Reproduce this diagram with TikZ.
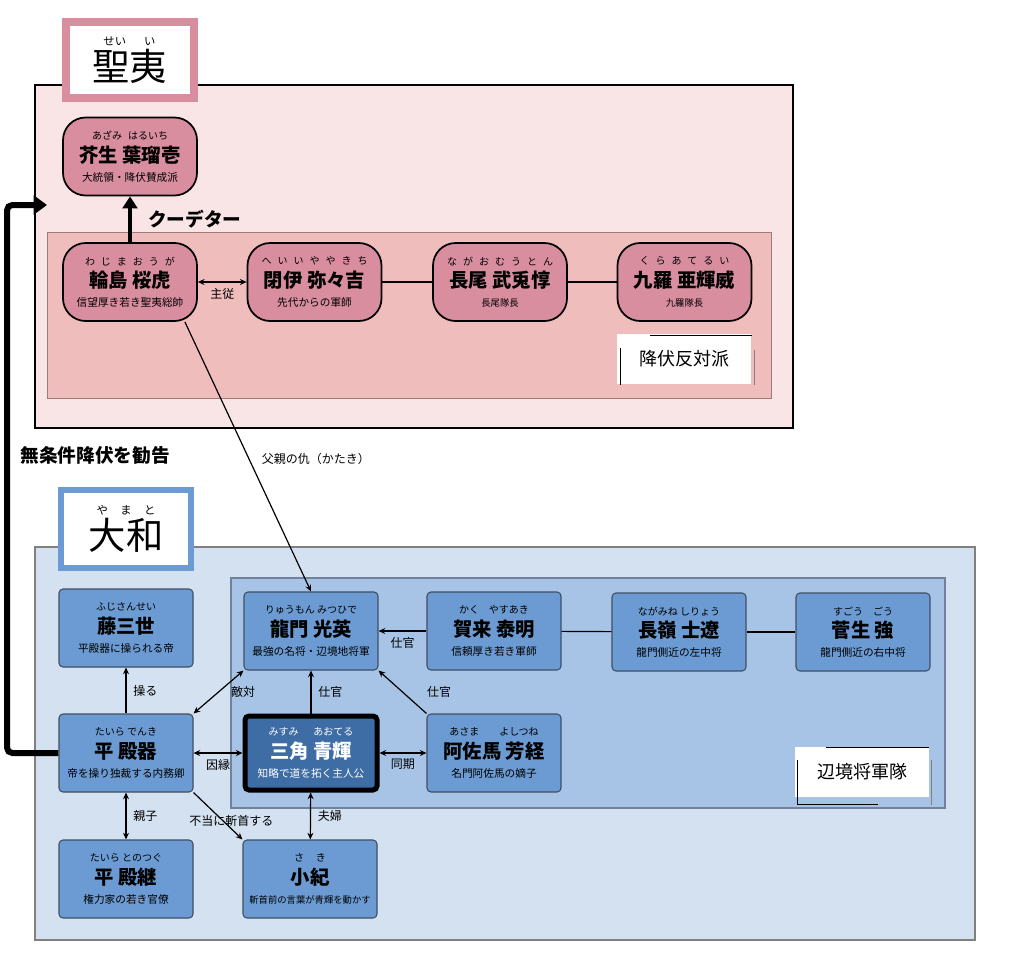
\documentclass[tikz,border=0pt]{standalone}
\usepackage{fontspec}
\setmainfont{Noto Sans CJK JP}
\usetikzlibrary{arrows.meta}
\usetikzlibrary{positioning}
\definecolor{seiibg}{HTML}{F9E5E5}
\definecolor{seiiin}{HTML}{EEBDBC}
\definecolor{seiiline}{HTML}{9E7B7B}
\definecolor{seiinode}{HTML}{D98EA0}
\definecolor{yamatobg}{HTML}{D3E1F1}
\definecolor{yamatoin}{HTML}{A7C4E6}
\definecolor{yamatoline}{HTML}{70839A}
\definecolor{yamatonode}{HTML}{6B9BD2}
\definecolor{yline}{HTML}{3F4F63}
\definecolor{heronode}{HTML}{3E6CA4}
\setlength{\lineskiplimit}{-20pt}
\newcommand{\who}[3]{{\fontsize{7.5}{8}\selectfont #1}\\[3pt]{\fontsize{14.5}{16}\selectfont\bfseries #2}\\{\fontsize{8}{9}\selectfont #3}}
\newcommand{\rubysp}[1]{{\addfontfeature{LetterSpace=60}#1}}
\begin{document}
\begin{tikzpicture}[x=0.75pt,y=-0.75pt,
  >={Stealth[length=5pt,width=4.5pt]},
  pnode/.style={rectangle,draw=black,line width=1.3pt,fill=seiinode,rounded corners=17pt,minimum width=100.5pt,minimum height=58.5pt,inner sep=0pt,align=center,font=\fontsize{8}{14}\selectfont},
  ynode/.style={pnode,draw=yline,line width=0.8pt,fill=yamatonode,rounded corners=3pt},
  hnode/.style={ynode,draw=black,line width=3.75pt,fill=heronode,text=white,minimum width=99pt,minimum height=55.5pt},
  tbox/.style={fill=white,line width=6pt,minimum width=96pt,minimum height=57pt,inner sep=0pt,align=center,font=\fontsize{8.5}{26}\selectfont},
  tag/.style={fill=white,minimum width=100pt,minimum height=38pt,inner sep=0pt,font=\fontsize{13.5}{14}\selectfont},
  link/.style={line width=0.9pt},
  lab/.style={font=\fontsize{9}{10}\selectfont,inner sep=1pt},
  head/.style={font=\fontsize{14}{15}\selectfont\bfseries,inner sep=0pt}]
\useasboundingbox (0,0) rectangle (1024,960);
\fill[white] (0,0) rectangle (1024,960);

\draw[fill=seiibg,draw=black,line width=0.8pt] (35,85) rectangle (793,428);
\draw[fill=seiiin,draw=seiiline,line width=0.7pt] (47,232) rectangle (771,398);
\draw[fill=yamatobg,draw=gray,line width=0.8pt] (35,547) rectangle (975,940);
\draw[fill=yamatoin,draw=yamatoline,line width=0.8pt] (231,578) rectangle (945,808);

\node[tbox,draw=seiinode] (seiititle) at (129.5,60) {せい\hspace{1.6em}い\\{\fontsize{28}{30}\selectfont 聖夷}};
\node[tbox,draw=yamatonode,line width=5pt,minimum width=97.5pt,minimum height=58.5pt] (yamatotitle) at (126,529) {や\hspace{1.1em}ま\hspace{1.1em}と\\{\fontsize{28}{30}\selectfont 大和}};

\node[tag] (antilabel) at (684,359) {降伏反対派};
\draw[line width=0.5pt] (620,348) -- (620,385);
\draw[line width=0.5pt] (650,335) -- (752,335);
\draw[gray,line width=0.5pt] (754,350) -- (754,385);
\node[tag] (frontlabel) at (862,772) {辺境将軍隊};
\draw[line width=0.5pt] (797,760) -- (797,804) -- (878,804);
\draw[line width=0.5pt] (826,747) -- (929,747);
\draw[gray,line width=0.5pt] (931,760) -- (931,805);

\node[pnode] (azami) at (130,156.5) {\who{あざみ\hspace{0.6em}はるいち}{芥生 葉瑠壱}{大統領・降伏賛成派}};
\node[pnode] (wajima) at (130,282) {\who{\rubysp{わじまおうが}}{輪島 桜虎}{信望厚き若き聖夷総帥}};
\node[pnode] (hei) at (314.5,282) {\who{\rubysp{へいいややきち}}{閉伊 弥々吉}{先代からの軍師}};
\node[pnode] (nagao) at (500,282) {\who{\rubysp{ながおむうとん}}{長尾 武兎惇}{{\fontsize{7}{8}\selectfont 長尾隊長}}};
\node[pnode] (kura) at (684.5,282) {\who{\rubysp{くらあてるい}}{九羅 亜輝威}{{\fontsize{7}{8}\selectfont 九羅隊長}}};

\node[ynode] (fuji) at (126,628) {\who{ふじさんせい}{藤三世}{平殿器に操られる帝}};
\node[ynode] (ryumon) at (311,631) {\who{りゅうもん みつひで}{龍門 光英}{最強の名将・辺境地将軍}};
\node[ynode] (kaku) at (494,631) {\who{かく\hspace{1em}やすあき}{賀来 泰明}{信頼厚き若き軍師}};
\node[ynode] (nagamine) at (679,632) {\who{ながみね しりょう}{長嶺 士遼}{龍門側近の左中将}};
\node[ynode] (sugou) at (863,632) {\who{すごう\hspace{1em}ごう}{菅生 強}{龍門側近の右中将}};
\node[ynode] (taira) at (126,753) {\who{たいら でんき}{平 殿器}{帝を操り独裁する内務卿}};
\node[hnode] (misumi) at (311,753) {\who{みすみ\hspace{1.5em}あおてる}{三角 青輝}{知略で道を拓く主人公}};
\node[ynode] (asama) at (494,753) {\who{あさま\hspace{2em}よしつね}{阿佐馬 芳経}{名門阿佐馬の嫡子}};
\node[ynode] (tonotsugu) at (126,879) {\who{たいら とのつぐ}{平 殿継}{権力家の若き官僚}};
\node[ynode] (saki) at (310,879) {\who{さ\hspace{1.2em}き}{小紀}{{\fontsize{7}{8}\selectfont 斬首前の言葉が青輝を動かす}}};

\draw[link,<->] (wajima) -- node[lab,below=3pt] {主従} (hei);
\draw[link] (hei) -- (nagao);
\draw[link] (nagao) -- (kura);
\draw[line width=3pt,-{Triangle[length=9pt,width=11pt]}] (wajima.north) -- node[head,right=12pt] {クーデター} (azami.south);
\draw[link,->] (wajima.-36) -- node[lab,pos=0.51,right=8pt] {父親の仇（かたき）} (ryumon.north);

\coordinate (seiientry) at (47,205);
\draw[line width=4.5pt,rounded corners=4pt,-{Triangle[length=10pt,width=14pt]}] (taira.west) -- (7,753) -- (7,205) -- (seiientry);
\node[head] (advice) at (95,455) {無条件降伏を勧告};

\draw[link,->] (taira) -- node[lab,right=4pt] {操る} (fuji);
\draw[link,<->] (taira.north east) -- node[lab,right=8pt] {敵対} (ryumon.south west);
\draw[link,->] (misumi) -- node[lab,right=4pt] {仕官} (ryumon);
\draw[link,->] (asama.north west) -- node[lab,right=17pt] {仕官} (ryumon.south east);
\draw[link,->] (kaku) -- node[lab,below=3pt] {仕官} (ryumon);
\draw[link] (kaku) -- (nagamine);
\draw[link] (nagamine) -- (sugou);
\draw[link,<->] (taira) -- node[lab,below=3pt] {因縁} (misumi);
\draw[link,<->] (misumi) -- node[lab,below=3pt] {同期} (asama);
\draw[link,<->] (taira) -- node[lab,right=4pt] {親子} (tonotsugu);
\draw[link,->] (taira.south east) -- node[lab,xshift=10pt,yshift=-4pt] {不当に斬首する} (saki.north west);
\draw[link,<->] (misumi) -- node[lab,right=4pt] {夫婦} (saki);
\end{tikzpicture}
\end{document}
